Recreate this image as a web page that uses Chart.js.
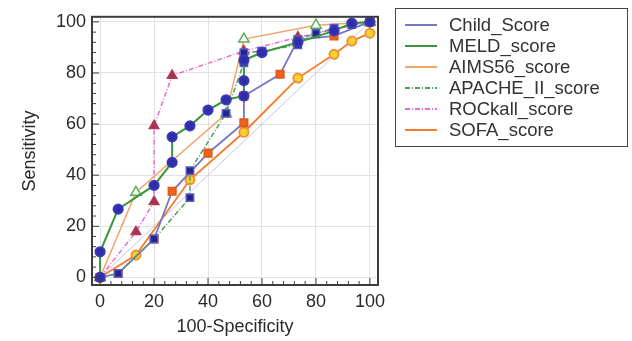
<!DOCTYPE html>
<html>
<head>
<meta charset="utf-8">
<script src="https://cdn.jsdelivr.net/npm/chart.js@4.4.0/dist/chart.umd.min.js"></script>
<style>
  body { margin: 0; background: #fff; }
  #wrap { position: relative; width: 632px; height: 341px; }
  #legend { position: absolute; left: 395px; top: 8px; width: 231px; height: 137px;
    border: 1.5px solid #444; font: 18.5px "Liberation Sans", Arial, sans-serif; color: #333; }
  .row { position: absolute; left: 0; height: 21px; line-height: 21px; width: 100%; }
  .row svg { position: absolute; left: 9px; top: 9px; }
  .row span { position: absolute; left: 53px; top: 0; white-space: nowrap; }
</style>
</head>
<body>
<div id="wrap">
  <canvas id="roc-chart" width="632" height="341"></canvas>
  <div id="legend"></div>
</div>
<script>
// data (100-specificity, sensitivity)
var names = ["Child_Score", "MELD_score", "AIMS56_score", "APACHE_II_score", "ROCkall_score", "SOFA_score"];

var childFpr = [0, 6.7, 20, 26.7, 40, 53.3, 53.3, 66.7, 73.3, 86.7, 100];
var childSens = [0, 1.5, 15, 33.7, 48.6, 60.5, 71, 79.5, 93, 94.5, 100];

var meldFpr = [0, 0, 6.7, 20, 26.7, 26.7, 33.3, 40, 46.7, 53.3, 53.3, 53.3, 60, 73.3, 86.7, 93.3, 100];
var meldSens = [0, 10, 26.7, 36, 45, 55, 59.3, 65.5, 69.5, 71, 77, 85, 88, 92, 96.5, 99.5, 100];

var aimsFpr = [0, 13.3, 46.7, 53.3, 80, 100];
var aimsSens = [0, 33.3, 64, 93.3, 98.7, 100];

var apacheFpr = [0, 6.7, 20, 33.3, 33.3, 46.7, 53.3, 53.3, 60, 73.3, 73.3, 80, 86.7, 93.3, 100];
var apacheSens = [0, 1.5, 15, 31.2, 41.8, 64.2, 84, 88, 88.5, 91, 93, 95.5, 97.5, 99, 100];

var rockFpr = [0, 13.3, 20, 20, 26.7, 53.3, 73.3, 100];
var rockSens = [0, 17.8, 29.6, 59.3, 79, 88.6, 94, 100];

var sofaFpr = [0, 13.3, 33.3, 53.3, 73.3, 86.7, 93.3, 100, 100];
var sofaSens = [0, 8.7, 38.2, 56.8, 78, 87.3, 92.5, 95.6, 100];

var axisTicks = [0, 4, 8, 12, 16, 20, 24, 28, 32, 36, 40, 44, 48, 52, 56, 60, 64, 68, 72, 76, 80, 84, 88, 92, 96, 100];

var FONT = '"Liberation Sans", Arial, sans-serif';

function pts(xs, ys) {
  return xs.map(function (x, i) { return { x: x, y: ys[i] }; });
}

var datasets = [
  { label: names[0], data: pts(childFpr, childSens), borderColor: "#7676c4", borderWidth: 1.8,
    pointStyle: "rect", pointRadius: 5.2, pointBackgroundColor: "#f0621e", pointBorderColor: "#e05a1a", order: 3 },
  { label: names[1], data: pts(meldFpr, meldSens), borderColor: "#3a963a", borderWidth: 2,
    pointStyle: "circle", pointRadius: 4.6, pointBackgroundColor: "#2e2eaa", pointBorderColor: "#3a3ab8", order: 1 },
  { label: names[2], data: pts(aimsFpr, aimsSens), borderColor: "#f4a468", borderWidth: 1.5,
    pointStyle: "triangle", pointRadius: 6, pointBackgroundColor: "#ffffff", pointBorderColor: "#5cb05c", order: 6 },
  { label: names[3], data: pts(apacheFpr, apacheSens), borderColor: "#4f9e5c", borderWidth: 1.5, borderDash: [5, 2, 1, 2],
    pointStyle: "rect", pointRadius: 5.2, pointBackgroundColor: "#24248c", pointBorderColor: "#5a5ac0", order: 2 },
  { label: names[4], data: pts(rockFpr, rockSens), borderColor: "#e070d8", borderWidth: 1.5, borderDash: [5, 2, 1, 2],
    pointStyle: "triangle", pointRadius: 5.5, pointBackgroundColor: "#a83050", pointBorderColor: "#b03a5a", order: 4 },
  { label: names[5], data: pts(sofaFpr, sofaSens), borderColor: "#f07c2c", borderWidth: 1.8,
    pointStyle: "circle", pointRadius: 4.6, pointBackgroundColor: "#f8d030", pointBorderColor: "#f09030", order: 5 },
  { label: "", data: [{ x: 0, y: 0 }, { x: 100, y: 100 }], borderColor: "#c6c6de", borderWidth: 1,
    pointRadius: 0, order: 10 }
];
datasets.forEach(function (d) { d.showLine = true; d.fill = false; });

// frame + inward tick marks
var frame = {
  id: "frame",
  afterDatasetsDraw: function (chart) {
    var ctx = chart.ctx, a = chart.chartArea, x = chart.scales.x, y = chart.scales.y;
    ctx.save();
    ctx.strokeStyle = "#3c3c3c";
    ctx.lineWidth = 1;
    axisTicks.forEach(function (v) {
      var len = v % 20 === 0 ? 7 : 4;
      var px = x.getPixelForValue(v), py = y.getPixelForValue(v);
      ctx.beginPath();
      ctx.moveTo(px, a.bottom); ctx.lineTo(px, a.bottom - len);
      ctx.moveTo(a.left, py); ctx.lineTo(a.left + len, py);
      ctx.stroke();
    });
    ctx.lineWidth = 2;
    ctx.strokeRect(a.left, a.top, a.right - a.left, a.bottom - a.top);
    ctx.restore();
  }
};

function axis(title, titlePad, fit) {
  return {
    type: "linear",
    afterBuildTicks: function (s) { s.ticks = axisTicks.map(function (v) { return { value: v }; }); },
    afterFit: fit,
    grid: {
      color: function (c) { return c.tick && c.tick.value % 20 === 0 ? "#e3e3e3" : "rgba(0,0,0,0)"; },
      drawTicks: false
    },
    border: { display: false },
    ticks: {
      autoSkip: false, maxRotation: 0, padding: 6, color: "#2a2a2a",
      font: { size: 18, family: FONT },
      callback: function (v) { return v % 20 === 0 ? v : ""; }
    },
    title: { display: true, text: title, color: "#2a2a2a", font: { size: 18, family: FONT }, padding: titlePad }
  };
}

var xAxis = axis("100-Specificity", { top: 0, bottom: 3 }, function (s) { s.height = 56; });
xAxis.min = -3; xAxis.max = 103;
var yAxis = axis("Sensitivity", { top: 19, bottom: 0 }, function (s) { s.width = 92; });
yAxis.min = -3; yAxis.max = 102;

new Chart(document.getElementById("roc-chart").getContext("2d"), {
  type: "scatter",
  data: { datasets: datasets },
  options: {
    responsive: false,
    animation: false,
    layout: { padding: { left: 0, top: 12, right: 254, bottom: 0 } },
    plugins: { legend: { display: false }, tooltip: { enabled: false } },
    scales: { x: xAxis, y: yAxis }
  },
  plugins: [frame]
});

// legend box built from the dataset styles
var legend = document.getElementById("legend");
datasets.slice(0, 6).forEach(function (d, i) {
  var row = document.createElement("div");
  row.className = "row";
  row.style.top = (5 + 21 * i) + "px";
  var dash = d.borderDash ? ' stroke-dasharray="' + d.borderDash.join(",") + '"' : "";
  row.innerHTML = '<svg width="32" height="4"><line x1="0" y1="2" x2="32" y2="2" stroke="' +
    d.borderColor + '" stroke-width="2"' + dash + '/></svg><span>' + d.label + "</span>";
  legend.appendChild(row);
});
</script>
</body>
</html>
